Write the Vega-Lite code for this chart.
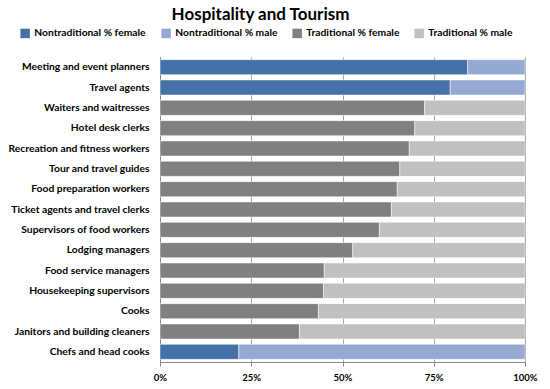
{
  "$schema": "https://vega.github.io/schema/vega-lite/v6.json",
  "width": 365,
  "height": 305,
  "autosize": {"type": "none"},
  "padding": {"left": 160, "top": 57, "right": 25, "bottom": 27},
  "background": "white",
  "title": {
    "text": "Hospitality and Tourism",
    "font": "Lato",
    "fontSize": 17,
    "fontWeight": "bold",
    "color": "#000000",
    "anchor": "middle",
    "dx": -82,
    "offset": 4
  },
  "data": {
    "values": [
      {"occupation": "Meeting and event planners", "series": "Nontraditional  % female", "ord": 1, "value": 84.3},
      {"occupation": "Meeting and event planners", "series": "Nontraditional  % male", "ord": 2, "value": 15.7},
      {"occupation": "Travel agents", "series": "Nontraditional  % female", "ord": 1, "value": 79.5},
      {"occupation": "Travel agents", "series": "Nontraditional  % male", "ord": 2, "value": 20.5},
      {"occupation": "Waiters and waitresses", "series": "Traditional  % female", "ord": 1, "value": 72.5},
      {"occupation": "Waiters and waitresses", "series": "Traditional  % male", "ord": 2, "value": 27.5},
      {"occupation": "Hotel desk clerks", "series": "Traditional  % female", "ord": 1, "value": 69.8},
      {"occupation": "Hotel desk clerks", "series": "Traditional  % male", "ord": 2, "value": 30.2},
      {"occupation": "Recreation and fitness workers", "series": "Traditional  % female", "ord": 1, "value": 68.3},
      {"occupation": "Recreation and fitness workers", "series": "Traditional  % male", "ord": 2, "value": 31.7},
      {"occupation": "Tour and travel guides", "series": "Traditional  % female", "ord": 1, "value": 65.7},
      {"occupation": "Tour and travel guides", "series": "Traditional  % male", "ord": 2, "value": 34.3},
      {"occupation": "Food preparation workers", "series": "Traditional  % female", "ord": 1, "value": 65.0},
      {"occupation": "Food preparation workers", "series": "Traditional  % male", "ord": 2, "value": 35.0},
      {"occupation": "Ticket agents and travel clerks", "series": "Traditional  % female", "ord": 1, "value": 63.4},
      {"occupation": "Ticket agents and travel clerks", "series": "Traditional  % male", "ord": 2, "value": 36.6},
      {"occupation": "Supervisors of food workers", "series": "Traditional  % female", "ord": 1, "value": 60.1},
      {"occupation": "Supervisors of food workers", "series": "Traditional  % male", "ord": 2, "value": 39.9},
      {"occupation": "Lodging managers", "series": "Traditional  % female", "ord": 1, "value": 52.8},
      {"occupation": "Lodging managers", "series": "Traditional  % male", "ord": 2, "value": 47.2},
      {"occupation": "Food service managers", "series": "Traditional  % female", "ord": 1, "value": 45.0},
      {"occupation": "Food service managers", "series": "Traditional  % male", "ord": 2, "value": 55.0},
      {"occupation": "Housekeeping supervisors", "series": "Traditional  % female", "ord": 1, "value": 44.8},
      {"occupation": "Housekeeping supervisors", "series": "Traditional  % male", "ord": 2, "value": 55.2},
      {"occupation": "Cooks", "series": "Traditional  % female", "ord": 1, "value": 43.4},
      {"occupation": "Cooks", "series": "Traditional  % male", "ord": 2, "value": 56.6},
      {"occupation": "Janitors and building cleaners ", "series": "Traditional  % female", "ord": 1, "value": 38.2},
      {"occupation": "Janitors and building cleaners ", "series": "Traditional  % male", "ord": 2, "value": 61.8},
      {"occupation": "Chefs and head cooks", "series": "Nontraditional  % female", "ord": 1, "value": 21.6},
      {"occupation": "Chefs and head cooks", "series": "Nontraditional  % male", "ord": 2, "value": 78.4}
    ]
  },
  "mark": {"type": "bar", "stroke": "white", "strokeWidth": 0.5},
  "encoding": {
    "y": {
      "field": "occupation",
      "type": "nominal",
      "sort": null,
      "scale": {"paddingInner": 0.26, "paddingOuter": 0.13},
      "axis": {
        "title": null,
        "ticks": false,
        "domainColor": "#888888",
        "labelFont": "Lato",
        "labelFontSize": 10.3,
        "labelFontWeight": "bold",
        "labelColor": "#000000",
        "labelPadding": 11,
        "labelLimit": 200
      }
    },
    "x": {
      "field": "value",
      "type": "quantitative",
      "stack": "normalize",
      "scale": {"domain": [0, 1]},
      "axis": {
        "title": null,
        "values": [0, 0.25, 0.5, 0.75, 1],
        "format": ".0%",
        "grid": true,
        "gridColor": "#A6A6A6",
        "gridWidth": 1,
        "domainColor": "#888888",
        "tickColor": "#888888",
        "tickSize": 4,
        "labelFont": "Lato",
        "labelFontSize": 9.5,
        "labelFontWeight": "bold",
        "labelColor": "#000000",
        "labelPadding": 6,
        "labelFlush": false
      }
    },
    "color": {
      "field": "series",
      "type": "nominal",
      "scale": {
        "domain": ["Nontraditional  % female", "Nontraditional  % male", "Traditional  % female", "Traditional  % male"],
        "range": ["#4472A8", "#95A9D2", "#808080", "#C0C0C0"]
      },
      "legend": {
        "title": null,
        "orient": "none",
        "direction": "horizontal",
        "legendX": -140,
        "legendY": -29,
        "symbolType": "square",
        "symbolSize": 90,
        "symbolStrokeWidth": 0,
        "labelFont": "Lato",
        "labelFontSize": 10.3,
        "labelFontWeight": "bold",
        "labelColor": "#000000",
        "columnPadding": 12,
        "labelLimit": 200
      }
    },
    "order": {"field": "ord", "type": "quantitative"}
  },
  "config": {
    "view": {"stroke": null}
  }
}
